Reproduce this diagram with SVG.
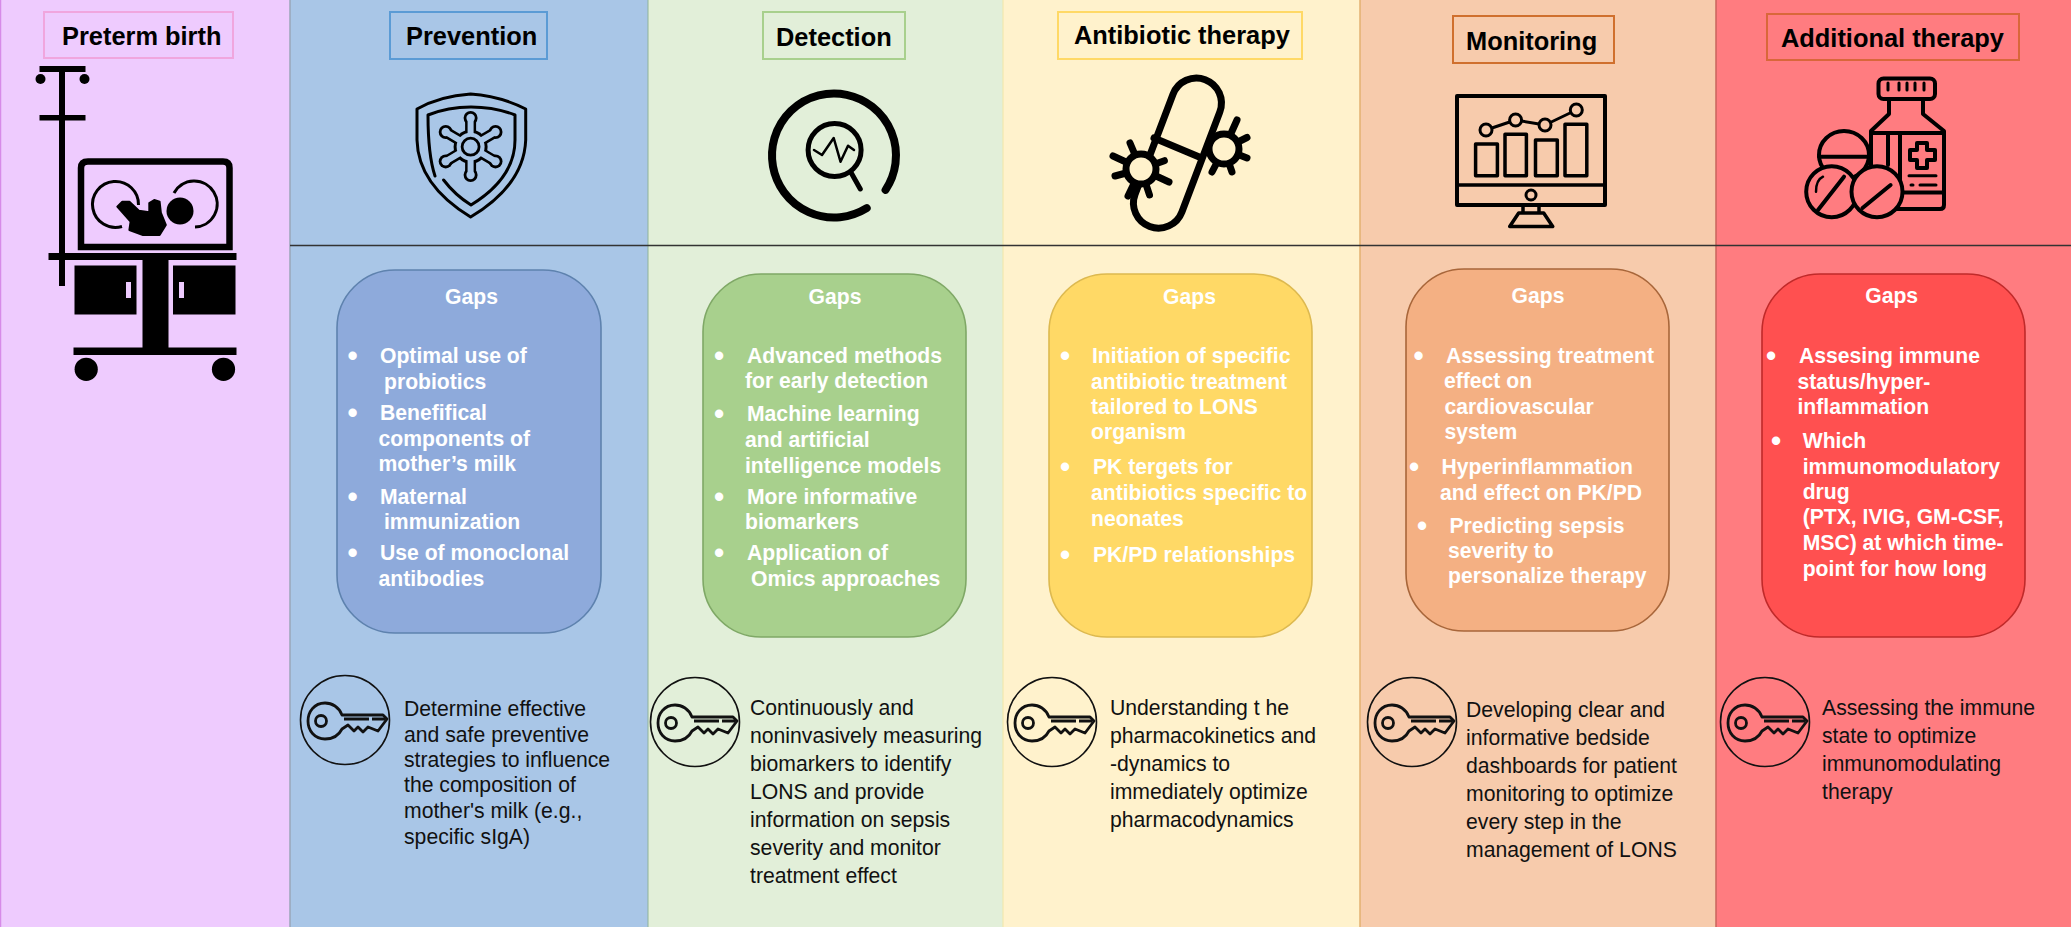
<svg xmlns="http://www.w3.org/2000/svg" xmlns:xlink="http://www.w3.org/1999/xlink" width="2071" height="927" viewBox="0 0 2071 927">
<style>
text{font-family:"Liberation Sans",Arial,sans-serif}
.t{font-size:25.4px;font-weight:700;fill:#000}
.g{font-size:21.15px;font-weight:700;fill:#fff}
.c{text-anchor:middle}
.bu{font-size:29px;transform:translateY(3px)}
.b{font-size:21.2px;fill:#111}
.tb{stroke-width:2;fill:none}
.gap{stroke-width:1.6}
.i{fill:none;stroke:#000;stroke-linecap:round;stroke-linejoin:round}
.k{fill:none;stroke:#111;stroke-width:1.6}
</style>
<defs>
<g id="key">
<circle class="k" r="44.5"/>
<g fill="none" stroke="#111" stroke-width="2.8" stroke-linejoin="round">
<path d="M-3,-5C-6,-13 -13,-17 -20,-17C-31,-17 -37,-8 -37,1C-37,11 -30,19 -20,19C-12,19 -6,15 -3,9L3,5L9,11L13,7L18,12L23,7L33,11L42,-1L38,-5Z"/>
<path d="M-1,-1H24M27,-1H40"/>
<circle cx="-24" cy="1" r="5.5"/>
</g>
</g>
</defs>
<rect id="bg-preterm" x="0" y="0" width="290" height="927" fill="#EECBFE"/>
<rect id="bg-prevention" x="290" y="0" width="358" height="927" fill="#A9C6E7"/>
<rect id="bg-detection" x="648" y="0" width="355" height="927" fill="#E2EFD9"/>
<rect id="bg-antibiotic" x="1003" y="0" width="357" height="927" fill="#FFF2CC"/>
<rect id="bg-monitoring" x="1360" y="0" width="356" height="927" fill="#F7CBAC"/>
<rect id="bg-additional" x="1716" y="0" width="355" height="927" fill="#FF7C80"/>
<g id="connectors" fill="none">
<path d="M0.5,0V927" stroke="#D68BE8" stroke-width="1.5"/>
<path d="M290,0V927" stroke="#9AA6B8" stroke-width="1.5"/>
<path d="M648,0V927" stroke="#8FB39A" stroke-width="1"/>
<path d="M1003,0V927" stroke="#F2E6A6" stroke-width="1"/>
<path d="M1360,0V927" stroke="#E3B070" stroke-width="1.5"/>
<path d="M1716,0V927" stroke="#C8645C" stroke-width="1.5"/>
<path d="M290,245.5H2071" stroke="#333" stroke-width="1.6"/>
</g>

<g id="preterm">
<rect class="tb" x="44" y="12" width="189" height="46" stroke="#F0A6DE"/>
<text class="t" x="62" y="45">Preterm birth</text>
<g id="icon-incubator">
<rect x="59" y="67" width="6" height="219"/>
<rect x="39.500" y="66" width="46" height="6"/>
<rect x="39.500" y="115" width="46" height="5.500"/>
<circle cx="40.500" cy="79" r="5"/>
<circle cx="84.500" cy="79" r="5"/>
<path d="M81,247V168Q81,161.500 88,161.500H223Q229.500,161.500 229.500,168V247Z" fill="none" stroke="#000" stroke-width="6.500"/>
<rect x="48.500" y="253" width="188" height="7"/>
<rect x="74.500" y="265.500" width="62" height="49"/>
<rect x="173" y="265.500" width="62.500" height="49"/>
<rect x="126" y="282" width="5" height="16" fill="#EECBFE"/>
<rect x="179" y="282" width="5" height="16" fill="#EECBFE"/>
<rect x="142.500" y="258" width="26" height="92"/>
<rect x="73.500" y="347.500" width="163" height="7.500"/>
<circle cx="86.200" cy="369.300" r="11.600"/>
<circle cx="223.500" cy="369.300" r="11.600"/>
<circle cx="180" cy="211" r="13.500"/>
<path d="M122.300,201.700L117.300,206.700L130.600,221.700L129.400,230L143,235H159.600L165.800,225L160.900,213L159.600,201.700L154.200,200L149.300,203V212.300L138.900,210.700L129.400,201.700Z" stroke="#000" stroke-width="2" stroke-linejoin="round"/>
<path d="M138.500,205A23,23 0 1 0 122,226.500" fill="none" stroke="#000" stroke-width="3"/>
<path d="M174,193A23,23 0 1 1 195,227" fill="none" stroke="#000" stroke-width="3"/>
</g>
</g>

<g id="prevention">
<rect class="tb" x="390" y="12" width="157" height="47" stroke="#5B9BD5"/>
<text class="t" x="406" y="45">Prevention</text>
<g id="icon-shield" class="i">
<path stroke-width="3" d="M470.600,94Q440,96 417,109L417,140Q418,185 470.600,217Q524,185 525.700,140L525.700,109Q500,96 470.600,94Z"/>
<path stroke-width="3" d="M435,176Q428,155 428,115Q448,107 471,107Q495,107 515,115L515,140Q515,178 471,205Q455,195 443.600,180"/>
<g stroke-width="11" stroke-linecap="butt">
<path d="M470.600,146.700V118M470.600,146.700V175M470.600,146.700L495.500,132M470.600,146.700L445.700,132M470.600,146.700L495.500,161.400M470.600,146.700L445.700,161.400"/>
</g>
<g fill="#000" stroke="none">
<circle cx="470.600" cy="146.700" r="17"/><circle cx="470.600" cy="118" r="7"/><circle cx="470.600" cy="175" r="7"/><circle cx="495.500" cy="132" r="7"/><circle cx="445.700" cy="132" r="7"/><circle cx="495.500" cy="161.400" r="7"/><circle cx="445.700" cy="161.400" r="7"/>
</g>
<g stroke="#A9C6E7" stroke-width="6" stroke-linecap="butt">
<path d="M470.600,146.700V118M470.600,146.700V175M470.600,146.700L495.500,132M470.600,146.700L445.700,132M470.600,146.700L495.500,161.400M470.600,146.700L445.700,161.400"/>
</g>
<g fill="#A9C6E7" stroke="none">
<circle cx="470.600" cy="146.700" r="14"/><circle cx="470.600" cy="118" r="4.200"/><circle cx="470.600" cy="175" r="4.200"/><circle cx="495.500" cy="132" r="4.200"/><circle cx="445.700" cy="132" r="4.200"/><circle cx="495.500" cy="161.400" r="4.200"/><circle cx="445.700" cy="161.400" r="4.200"/>
</g>
<circle cx="470.600" cy="146.700" r="8.500" stroke-width="2.800"/>
</g>
<rect class="gap" x="337" y="270" width="264" height="363" rx="58" fill="#8EAADB" stroke="#5E82AE"/>
<text class="g c" x="471.500" y="304">Gaps</text>
<text class="g c bu" x="352.500" y="363">•</text>
<text class="g" x="380" y="363">Optimal use of</text>
<text class="g" x="384" y="389">probiotics</text>
<text class="g c bu" x="352.500" y="420">•</text>
<text class="g" x="380" y="420">Benefifical</text>
<text class="g" x="378.500" y="446">components of</text>
<text class="g" x="378.500" y="471">mother’s milk</text>
<text class="g c bu" x="352.500" y="504">•</text>
<text class="g" x="380" y="504">Maternal</text>
<text class="g" x="384" y="529">immunization</text>
<text class="g c bu" x="352.500" y="560">•</text>
<text class="g" x="380" y="560">Use of monoclonal</text>
<text class="g" x="378.500" y="586">antibodies</text>
<use href="#key" xlink:href="#key" x="345" y="720"/>
<text class="b" x="404" y="716">Determine effective</text>
<text class="b" x="404" y="742">and safe preventive</text>
<text class="b" x="404" y="767">strategies to influence</text>
<text class="b" x="404" y="792">the composition of</text>
<text class="b" x="404" y="818">mother's milk (e.g.,</text>
<text class="b" x="404" y="844">specific sIgA)</text>
</g>

<g id="detection">
<rect class="tb" x="763" y="12" width="142" height="47" stroke="#A8D08D"/>
<text class="t" x="776" y="46">Detection</text>
<g id="icon-detection" class="i">
<path stroke-width="8" d="M885.600,189.900A62,62 0 1 0 866.700,208.200"/>
<circle cx="834.600" cy="150" r="26.500" stroke-width="5"/>
<path stroke-width="5" d="M850.600,171.700L860.300,189"/>
<path stroke-width="2.500" d="M814,150L822,155L833.700,138L840.500,161.700L848,145.700L854,150"/>
</g>
<rect class="gap" x="703" y="274" width="263" height="363" rx="58" fill="#A8D08D" stroke="#7FA866"/>
<text class="g c" x="835" y="304">Gaps</text>
<text class="g c bu" x="719" y="363">•</text>
<text class="g" x="747" y="363">Advanced methods</text>
<text class="g" x="745" y="388">for early detection</text>
<text class="g c bu" x="719" y="421">•</text>
<text class="g" x="747" y="421">Machine learning</text>
<text class="g" x="745" y="447">and artificial</text>
<text class="g" x="745" y="473">intelligence models</text>
<text class="g c bu" x="719" y="504">•</text>
<text class="g" x="747" y="504">More informative</text>
<text class="g" x="745" y="529">biomarkers</text>
<text class="g c bu" x="719" y="560">•</text>
<text class="g" x="747" y="560">Application of</text>
<text class="g" x="751" y="586">Omics approaches</text>
<use href="#key" xlink:href="#key" x="695" y="722"/>
<text class="b" x="750" y="715">Continuously and</text>
<text class="b" x="750" y="743">noninvasively measuring</text>
<text class="b" x="750" y="771">biomarkers to identify</text>
<text class="b" x="750" y="799">LONS and provide</text>
<text class="b" x="750" y="827">information on sepsis</text>
<text class="b" x="750" y="855">severity and monitor</text>
<text class="b" x="750" y="883">treatment effect</text>
</g>

<g id="antibiotic">
<rect class="tb" x="1058" y="12" width="244" height="47" stroke="#FFD966"/>
<text class="t" x="1074" y="43.500">Antibiotic therapy</text>
<g id="icon-pill" class="i">
<path stroke-width="7" d="M1173,94.200A25,25 0 0 1 1219.800,111.900L1181.900,211.900A25,25 0 0 1 1135.100,194.200Z"/>
<path stroke-width="7" d="M1154,138L1198.700,156.700"/>
<path stroke-width="7" d="M1237,120L1224,149M1247,137.500L1224,149M1247,158L1224,149M1232,172L1224,149M1212,172L1224,149M1141,169L1130,143M1141,169L1113,156M1141,169L1115,176M1141,169L1128,196M1141,169L1149.500,195M1141,169L1169,182M1141,169L1164.400,160.700"/>
<circle cx="1224" cy="149" r="15" stroke-width="7" fill="#FFF2CC"/>
<circle cx="1141" cy="169" r="15" stroke-width="7" fill="#FFF2CC"/>
</g>
<rect class="gap" x="1049" y="274" width="263" height="363" rx="58" fill="#FFD966" stroke="#DDB94F"/>
<text class="g c" x="1189.500" y="304">Gaps</text>
<text class="g c bu" x="1065" y="363">•</text>
<text class="g" x="1092" y="363">Initiation of specific</text>
<text class="g" x="1091" y="389">antibiotic treatment</text>
<text class="g" x="1091" y="414">tailored to LONS</text>
<text class="g" x="1091" y="439">organism</text>
<text class="g c bu" x="1065" y="474">•</text>
<text class="g" x="1093" y="474">PK tergets for</text>
<text class="g" x="1091" y="500">antibiotics specific to</text>
<text class="g" x="1091" y="526">neonates</text>
<text class="g c bu" x="1065" y="562">•</text>
<text class="g" x="1093" y="562">PK/PD relationships</text>
<use href="#key" xlink:href="#key" x="1052" y="722"/>
<text class="b" x="1110" y="715">Understanding t he</text>
<text class="b" x="1110" y="743">pharmacokinetics and</text>
<text class="b" x="1110" y="771">-dynamics to</text>
<text class="b" x="1110" y="799">immediately optimize</text>
<text class="b" x="1110" y="827">pharmacodynamics</text>
</g>

<g id="monitoring">
<rect class="tb" x="1453" y="16" width="161" height="47" stroke="#D0702E"/>
<text class="t" x="1466" y="50">Monitoring</text>
<g id="icon-monitor" class="i">
<rect x="1457" y="96" width="148" height="109" stroke-width="4"/>
<path stroke-width="3.500" d="M1457,185H1605M1523,206V213M1539,206V213M1518.700,213H1543.700L1552.700,226.500H1509.700Z"/>
<circle cx="1531" cy="195" r="5" stroke-width="3"/>
<g stroke-width="3.500">
<rect x="1475.600" y="144" width="21.800" height="31.700"/>
<rect x="1505" y="134.300" width="21.400" height="41.400"/>
<rect x="1535.500" y="140" width="21.800" height="35.700"/>
<rect x="1565" y="124.300" width="21.800" height="51.400"/>
</g>
<path stroke-width="3" d="M1486,130L1515.600,120L1545,125L1576.300,110"/>
<g stroke-width="3" fill="#F7CBAC">
<circle cx="1486" cy="130" r="6"/><circle cx="1515.600" cy="120" r="6"/><circle cx="1545" cy="125" r="6"/><circle cx="1576.300" cy="110" r="6"/>
</g>
</g>
<rect class="gap" x="1406" y="269" width="263" height="362" rx="58" fill="#F4B083" stroke="#A8663A"/>
<text class="g c" x="1538" y="303">Gaps</text>
<text class="g c bu" x="1418.500" y="363">•</text>
<text class="g" x="1446" y="363">Assessing treatment</text>
<text class="g" x="1444" y="388">effect on</text>
<text class="g" x="1444.500" y="414">cardiovascular</text>
<text class="g" x="1444.500" y="439">system</text>
<text class="g c bu" x="1414" y="474">•</text>
<text class="g" x="1441.500" y="474">Hyperinflammation</text>
<text class="g" x="1440" y="500">and effect on PK/PD</text>
<text class="g c bu" x="1422" y="533">•</text>
<text class="g" x="1449.500" y="533">Predicting sepsis</text>
<text class="g" x="1448" y="558">severity to</text>
<text class="g" x="1448" y="583">personalize therapy</text>
<use href="#key" xlink:href="#key" x="1412" y="722"/>
<text class="b" x="1466" y="717">Developing clear and</text>
<text class="b" x="1466" y="745">informative bedside</text>
<text class="b" x="1466" y="773">dashboards for patient</text>
<text class="b" x="1466" y="801">monitoring to optimize</text>
<text class="b" x="1466" y="829">every step in the</text>
<text class="b" x="1466" y="857">management of LONS</text>
</g>

<g id="additional">
<rect class="tb" x="1767" y="14" width="252" height="46" stroke="#D9673A"/>
<text class="t" x="1781" y="47">Additional therapy</text>
<g id="icon-bottle" class="i" stroke-width="4">
<rect x="1878.500" y="78.500" width="56.500" height="20.500" rx="5"/>
<path stroke-width="3" d="M1888,83V90M1899,83V90M1907,83V90M1915,83V90M1924,83V90"/>
<path d="M1889,99V114L1871,131V205Q1871,209 1875,209H1940Q1944,209 1944,205V131L1923,114V99"/>
<path d="M1871,133H1944M1900,133V192.500H1944M1888,133V165"/>
<path d="M1917,143H1927V150H1935V160H1927V168H1917V160H1910V150H1917Z"/>
<path stroke-width="3" d="M1909,175.700H1936M1911,185H1913M1920,185H1936"/>
<ellipse cx="1844" cy="155" rx="25" ry="24" fill="#FF7C80"/>
<path d="M1819,156.700H1869"/>
<circle cx="1831.700" cy="191.700" r="25.500" fill="#FF7C80"/>
<circle cx="1877" cy="191.700" r="25.500" fill="#FF7C80"/>
<path d="M1818,210L1844,176.700M1862.500,208L1890.600,185"/>
<path stroke-width="2.500" d="M1816,191.700Q1816,180 1823,176.700"/>
</g>
<rect class="gap" x="1762" y="274" width="263" height="363" rx="58" fill="#FF5050" stroke="#C02A2A"/>
<text class="g c" x="1891.700" y="303">Gaps</text>
<text class="g c bu" x="1771" y="363">•</text>
<text class="g" x="1799" y="363">Assesing immune</text>
<text class="g" x="1797.500" y="389">status/hyper-</text>
<text class="g" x="1797.500" y="414">inflammation</text>
<text class="g c bu" x="1776" y="448">•</text>
<text class="g" x="1802.700" y="448">Which</text>
<text class="g" x="1802.700" y="474">immunomodulatory</text>
<text class="g" x="1802.700" y="499">drug</text>
<text class="g" x="1802.700" y="524">(PTX, IVIG, GM-CSF,</text>
<text class="g" x="1802.700" y="550">MSC) at which time-</text>
<text class="g" x="1802.700" y="576">point for how long</text>
<use href="#key" xlink:href="#key" x="1765" y="722"/>
<text class="b" x="1822" y="715">Assessing the immune</text>
<text class="b" x="1822" y="743">state to optimize</text>
<text class="b" x="1822" y="771">immunomodulating</text>
<text class="b" x="1822" y="799">therapy</text>
</g>
</svg>
